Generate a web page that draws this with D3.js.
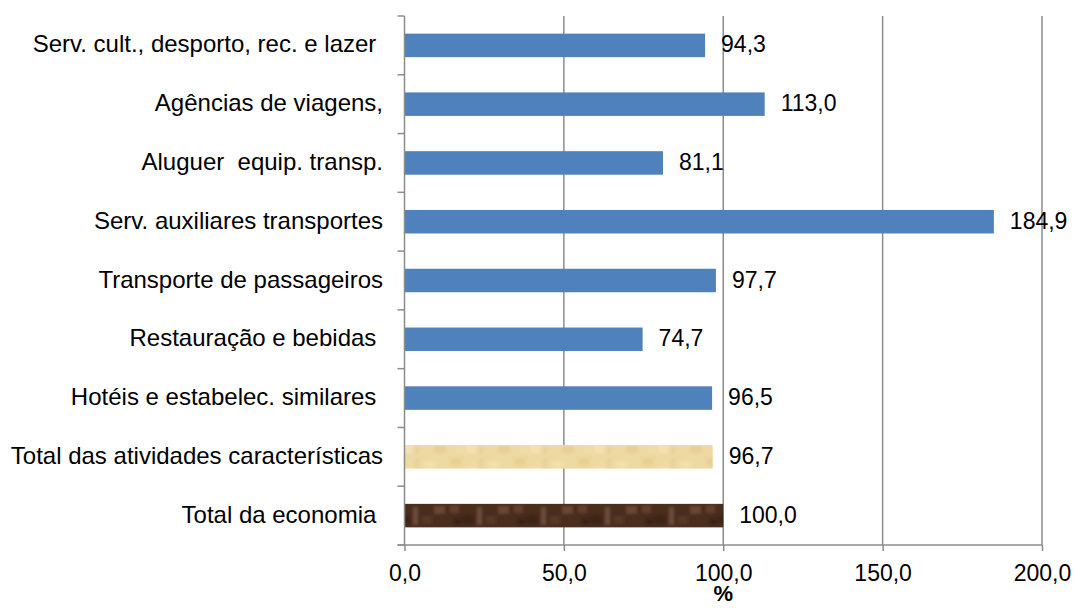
<!DOCTYPE html>
<html>
<head>
<meta charset="utf-8">
<script src="https://cdn.jsdelivr.net/npm/d3@7"></script>
<style>
  body { margin: 0; background: #fff; }
  text { font-family: "Liberation Sans", Arial, sans-serif; fill: #000; }
</style>
</head>
<body>
<svg id="chart" width="1074" height="608"></svg>
<script>
// categories top to bottom (trailing spaces as in the source labels)
var categories = [
  'Serv. cult., desporto, rec. e lazer ',
  'Agências de viagens,',
  'Aluguer  equip. transp.',
  'Serv. auxiliares transportes',
  'Transporte de passageiros',
  'Restauração e bebidas ',
  'Hotéis e estabelec. similares ',
  'Total das atividades características',
  'Total da economia '
];
var values = [94.3, 113.0, 81.1, 184.9, 97.7, 74.7, 96.5, 96.7, 100.0];
var xTicks = [0, 50, 100, 150, 200];
var barFill = ['blue', 'blue', 'blue', 'blue', 'blue', 'blue', 'blue', 'tan', 'brown'];

var fmt = function (v) { return d3.format('.1f')(v).replace('.', ','); };

var plotLeft = 404.5, plotRight = 1042, plotTop = 16, plotBottom = 545;
var gridColor = '#8c8c8c';

var svg = d3.select('#chart');

// texture-like fills for the two totals
var defs = svg.append('defs');
defs.append('filter').attr('id', 'soft')
  .append('feGaussianBlur').attr('stdDeviation', 1.6);
function makePattern(id, base, spots) {
  var p = defs.append('pattern')
    .attr('id', id)
    .attr('patternUnits', 'userSpaceOnUse')
    .attr('width', 64).attr('height', 24);
  p.append('rect').attr('width', 64).attr('height', 24).attr('fill', base);
  var g = p.append('g').attr('filter', 'url(#soft)');
  spots.forEach(function (s) {
    g.append('rect')
      .attr('x', s[0]).attr('y', s[1]).attr('width', s[2]).attr('height', s[3])
      .attr('fill', s[4]).attr('opacity', 0.6);
  });
}
makePattern('tanTex', '#eed9a2', [
  [2, 2, 12, 8, '#e3c98a'], [18, 12, 10, 9, '#f6e6bc'], [31, 1, 4, 22, '#e6cf92'],
  [40, 5, 12, 7, '#f4e2b3'], [50, 14, 12, 7, '#e2c88a'], [8, 15, 8, 6, '#f3dfae']
]);
makePattern('brownTex', '#4a2d1c', [
  [2, 1, 9, 8, '#6e4c36'], [14, 11, 12, 9, '#331e12'], [29, 3, 5, 18, '#826450'],
  [38, 12, 10, 8, '#5e3f2b'], [50, 2, 11, 8, '#7a5a44'], [6, 15, 7, 6, '#2c190e']
]);
var fills = { blue: '#4f81bd', tan: 'url(#tanTex)', brown: 'url(#brownTex)' };

var x = d3.scaleLinear().domain([0, 200]).range([plotLeft, plotRight]);
var y = d3.scaleBand().domain(categories).range([plotTop, plotBottom])
  .paddingInner(0.6).paddingOuter(0.3);
var step = y.step();

// vertical gridlines
svg.append('g')
  .selectAll('line')
  .data(xTicks.slice(1))
  .enter()
  .append('line')
  .attr('x1', function (d) { return x(d); })
  .attr('x2', function (d) { return x(d); })
  .attr('y1', plotTop).attr('y2', plotBottom)
  .attr('stroke', gridColor).attr('stroke-width', 1.5);

// bars
svg.append('g')
  .selectAll('rect')
  .data(values)
  .enter()
  .append('rect')
  .attr('x', x(0))
  .attr('y', function (d, i) { return y(categories[i]); })
  .attr('width', function (d) { return x(d) - x(0); })
  .attr('height', y.bandwidth())
  .attr('fill', function (d, i) { return fills[barFill[i]]; });

// y axis line + ticks at band boundaries
svg.append('line')
  .attr('x1', plotLeft).attr('x2', plotLeft).attr('y1', plotTop).attr('y2', plotBottom)
  .attr('stroke', gridColor).attr('stroke-width', 1.5);
svg.append('g')
  .selectAll('line')
  .data(d3.range(categories.length + 1))
  .enter()
  .append('line')
  .attr('x1', plotLeft - 7).attr('x2', plotLeft)
  .attr('y1', function (d) { return plotTop + d * step; })
  .attr('y2', function (d) { return plotTop + d * step; })
  .attr('stroke', gridColor).attr('stroke-width', 1.5);

// x axis
var xAxis = d3.axisBottom(x)
  .tickValues(xTicks)
  .tickSize(6)
  .tickPadding(14)
  .tickFormat(fmt);
var gx = svg.append('g')
  .attr('transform', 'translate(0,' + plotBottom + ')')
  .call(xAxis);
gx.select('.domain').attr('d', 'M' + (plotLeft - 7) + ',0H' + plotRight)
  .attr('stroke', gridColor).attr('stroke-width', 1.5);
gx.selectAll('.tick line').attr('stroke', gridColor).attr('stroke-width', 1.5);
gx.selectAll('.tick text')
  .attr('font-size', '23px')
  .attr('font-family', '"Liberation Sans", Arial, sans-serif')
  .attr('fill', '#000');

// axis title
svg.append('text')
  .attr('x', x(100))
  .attr('y', 601)
  .attr('text-anchor', 'middle')
  .attr('font-size', '22px')
  .attr('font-weight', 'bold')
  .text('%');

// category labels
svg.append('g')
  .selectAll('text')
  .data(categories)
  .enter()
  .append('text')
  .attr('x', 383)
  .attr('y', function (d) { return y(d) + y.bandwidth() / 2 + 7; })
  .attr('text-anchor', 'end')
  .attr('font-size', '24px')
  .style('white-space', 'pre')
  .text(function (d) { return d; });

// value labels
svg.append('g')
  .selectAll('text')
  .data(values)
  .enter()
  .append('text')
  .attr('x', function (d) { return x(d) + 16; })
  .attr('y', function (d, i) { return y(categories[i]) + y.bandwidth() / 2 + 7; })
  .attr('font-size', '23px')
  .text(function (d) { return fmt(d); });
</script>
</body>
</html>
